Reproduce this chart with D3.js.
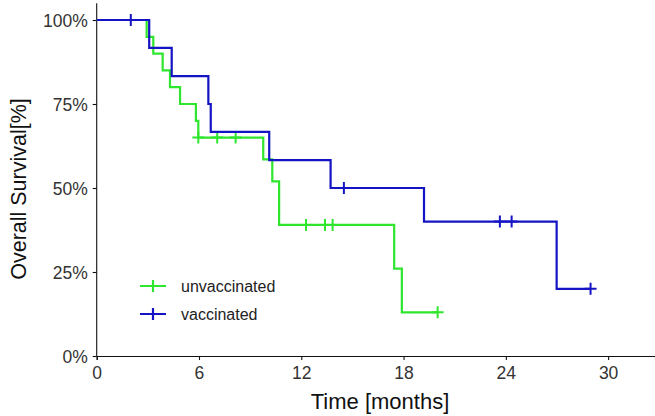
<!DOCTYPE html>
<html>
<head>
<meta charset="utf-8">
<script src="https://cdn.jsdelivr.net/npm/d3@7"></script>
<style>
  body { margin: 0; background: #fff; }
  svg text { font-family: "Liberation Sans", Arial, sans-serif; }
</style>
</head>
<body>
<svg id="km" width="655" height="416"></svg>
<script>
// step curves (time in months, survival as fraction)
var unvac_times = [0, 2.93, 3.32, 3.87, 4.30, 4.89, 5.82, 5.96, 9.77, 10.3, 10.7, 17.45, 17.9, 20.0]
var unvac_surv  = [1.0, 0.95, 0.90, 0.85, 0.80, 0.75, 0.70, 0.65, 0.585, 0.52, 0.39, 0.26, 0.13, 0.13]
var unvac_cens_t = [5.96, 7.07, 8.15, 12.28, 13.39, 13.84, 20.0]
var unvac_cens_s = [0.65, 0.65, 0.65, 0.39, 0.39, 0.39, 0.13]

var vac_times = [0, 3.08, 4.40, 6.55, 6.69, 10.12, 13.72, 19.2, 26.98, 28.97]
var vac_surv  = [1.0, 0.917, 0.833, 0.75, 0.667, 0.583, 0.50, 0.40, 0.20, 0.20]
var vac_cens_t = [2.0, 14.5, 23.65, 24.34, 28.97]
var vac_cens_s = [1.0, 0.50, 0.40, 0.40, 0.20]

var x_ticks = [0, 6, 12, 18, 24, 30]
var y_ticks = [0, 0.25, 0.5, 0.75, 1.0]
var groups = ["unvaccinated", "vaccinated"]
var colors = ["#2ee62e", "#1414c4"]

var svg = d3.select("#km")
var left = 96.7, bottom = 356

var x = d3.scaleLinear().domain([0, 32.75]).range([left, 655])
var y = d3.scaleLinear().domain([0, 1]).range([bottom, 20])

// axes
var xAxis = svg.append("g")
    .attr("transform", "translate(0," + bottom + ")")
    .call(d3.axisBottom(x).tickValues(x_ticks).tickSizeOuter(0).tickSize(4).tickPadding(5))
var yAxis = svg.append("g")
    .attr("transform", "translate(" + left + ",0)")
    .call(d3.axisLeft(y).tickValues(y_ticks).tickFormat(d3.format(".0%")).tickSizeOuter(0).tickSize(4).tickPadding(5))
yAxis.select(".domain").attr("d", "M0," + y(1.05) + "V" + bottom)

svg.selectAll(".domain, .tick line").attr("stroke", "#111").attr("stroke-width", 1.1)
svg.selectAll(".tick text").attr("fill", "#333").style("font-size", "17.5px")
xAxis.selectAll(".tick text").attr("dy", "0.8em")
yAxis.selectAll(".tick text").attr("dy", "0.36em")

svg.append("text")
    .attr("x", 380).attr("y", 409)
    .attr("text-anchor", "middle")
    .style("font-size", "22px").attr("fill", "#111")
    .text("Time [months]")
svg.append("text")
    .attr("transform", "translate(26,189) rotate(-90)")
    .attr("text-anchor", "middle")
    .style("font-size", "21.5px").attr("fill", "#111")
    .text("Overall Survival[%]")

// curves
var line = d3.line().curve(d3.curveStepAfter)
    .x(function(d) { return x(d[0]) })
    .y(function(d) { return y(d[1]) })

var series = [
    {times: unvac_times, surv: unvac_surv, ct: unvac_cens_t, cs: unvac_cens_s},
    {times: vac_times, surv: vac_surv, ct: vac_cens_t, cs: vac_cens_s}
]

series.forEach(function(s, i) {
    var pts = s.times.map(function(t, j) { return [t, s.surv[j]] })
    svg.append("path")
        .attr("d", line(pts))
        .attr("fill", "none")
        .attr("stroke", colors[i])
        .attr("stroke-width", 2.2)
    var cens = s.ct.map(function(t, j) { return [t, s.cs[j]] })
    svg.selectAll(null).data(cens).join("path")
        .attr("d", function(d) {
            var cx = x(d[0]), cy = y(d[1])
            return "M" + (cx - 6) + "," + cy + "H" + (cx + 6) + "M" + cx + "," + (cy - 6) + "V" + (cy + 6)
        })
        .attr("stroke", colors[i])
        .attr("stroke-width", 2)
})

// legend
var lg = svg.append("g")
lg.selectAll("path").data(groups).join("path")
    .attr("d", function(d, i) {
        var cy = 286 + i * 28
        return "M140," + cy + "H166M153," + (cy - 6) + "V" + (cy + 6)
    })
    .attr("stroke", function(d, i) { return colors[i] })
    .attr("stroke-width", 2.2)
lg.selectAll("text").data(groups).join("text")
    .attr("x", 181)
    .attr("y", function(d, i) { return 286 + i * 28 })
    .attr("dy", "0.36em")
    .style("font-size", "16px")
    .attr("fill", "#222")
    .text(function(d) { return d })
</script>
</body>
</html>
